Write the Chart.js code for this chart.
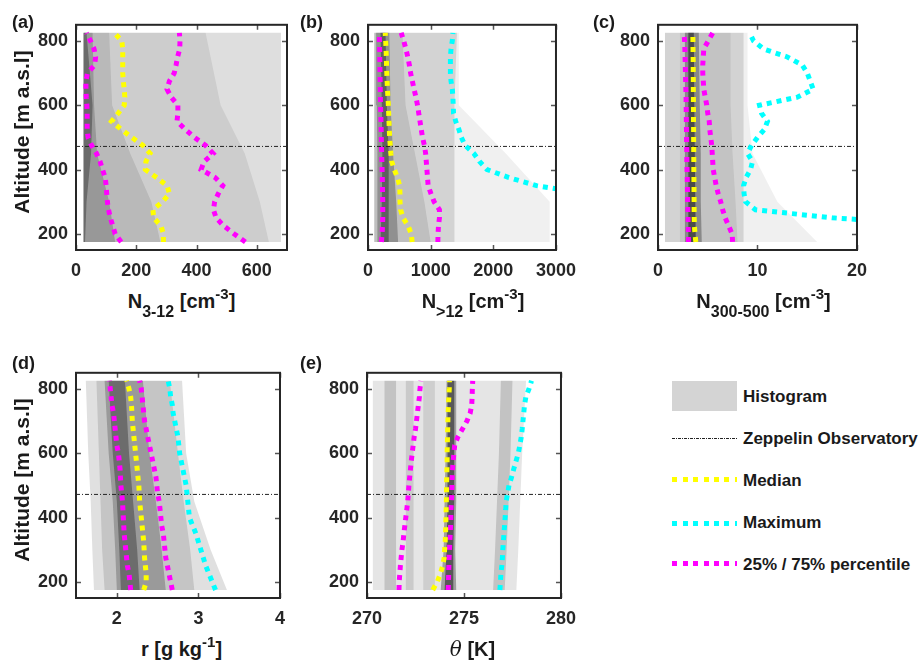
<!DOCTYPE html>
<html>
<head>
<meta charset="utf-8">
<script src="https://cdn.jsdelivr.net/npm/chart.js@4.4.1/dist/chart.umd.min.js"></script>
<style>
body { margin: 0; background: #fff; }
#fig { position: relative; width: 924px; height: 663px; overflow: hidden; font-family: "Liberation Sans", Arial, sans-serif; font-weight: bold; color: #1a1a1a; }
canvas { position: absolute; }
.lab { position: absolute; font-size: 18px; line-height: 20px; white-space: nowrap; }
.xt { position: absolute; font-size: 20px; line-height: 20px; text-align: center; white-space: nowrap; }
.xt sub { font-size: 16px; position: relative; vertical-align: baseline; top: 9px; }
.xt sup { font-size: 15px; position: relative; vertical-align: baseline; top: -9px; }
.yt { position: absolute; width: 240px; font-size: 21px; line-height: 22px; text-align: center; transform: rotate(-90deg); white-space: nowrap; }
.lg { position: absolute; left: 743px; font-size: 17px; line-height: 20px; white-space: nowrap; }
.sw { position: absolute; left: 672px; width: 65px; }
</style>
</head>
<body>
<div id="fig">
  <canvas id="ca" width="279" height="284" style="left:16px;top:6px"></canvas>
  <canvas id="cb" width="278" height="284" style="left:308px;top:6px"></canvas>
  <canvas id="cc" width="279" height="284" style="left:598px;top:6px"></canvas>
  <canvas id="cd" width="279" height="284" style="left:16px;top:354px"></canvas>
  <canvas id="ce" width="279" height="284" style="left:307px;top:354px"></canvas>

  <div class="lab" style="left:12px;top:12px">(a)</div>
  <div class="lab" style="left:300px;top:12px">(b)</div>
  <div class="lab" style="left:593px;top:12px">(c)</div>
  <div class="lab" style="left:12px;top:353px">(d)</div>
  <div class="lab" style="left:300px;top:353px">(e)</div>

  <div class="yt" style="left:-98px;top:121px">Altitude [m a.s.l]</div>
  <div class="yt" style="left:-98px;top:469px">Altitude [m a.s.l]</div>

  <div class="xt" style="left:76px;width:211px;top:291px">N<sub>3-12</sub> [cm<sup>-3</sup>]</div>
  <div class="xt" style="left:368px;width:210px;top:291px">N<sub>&gt;12</sub> [cm<sup>-3</sup>]</div>
  <div class="xt" style="left:658px;width:211px;top:291px">N<sub>300-500</sub> [cm<sup>-3</sup>]</div>
  <div class="xt" style="left:76px;width:211px;top:639px">r [g kg<sup>-1</sup>]</div>
  <div class="xt" style="left:367px;width:211px;top:639px"><i style="font-family:'DejaVu Serif',serif;font-weight:normal">θ</i> [K]</div>

  <div class="sw" style="top:381px;height:30px;background:#d4d4d4"></div>
  <div class="sw" style="top:438px;height:1px;background:repeating-linear-gradient(90deg,#222 0 3px,transparent 3px 4px,#222 4px 5px,transparent 5px 6px)"></div>
  <div class="sw" style="top:477px;height:5px;background:repeating-linear-gradient(90deg,#ffff00 0 5px,transparent 5px 10.5px)"></div>
  <div class="sw" style="top:521px;height:5px;background:repeating-linear-gradient(90deg,#00ffff 0 5px,transparent 5px 10.5px)"></div>
  <div class="sw" style="top:561px;height:5px;background:repeating-linear-gradient(90deg,#ff00ff 0 5px,transparent 5px 10.5px)"></div>
  <div class="lg" style="top:387px">Histogram</div>
  <div class="lg" style="top:429px">Zeppelin Observatory</div>
  <div class="lg" style="top:471px">Median</div>
  <div class="lg" style="top:513px">Maximum</div>
  <div class="lg" style="top:555px">25% / 75% percentile</div>
</div>

<script>
// altitude levels of the profiles
const alt = [175, 200, 225, 250, 275, 300, 325, 350, 375, 400, 425, 450, 475, 500, 525, 550, 575, 600, 625, 650, 675, 700, 725, 750, 775, 800, 825];
const zeppelinAlt = 472;
const yRange = [150, 850];
const yTicks = [200, 400, 600, 800];

// (a) N3-12
const aRange = [0, 700], aTicks = [0, 200, 400, 600];
const aP25 = [150, 130, 122, 114, 108, 104, 102, 100, 97, 88, 80, 68, 52, 40, 37, 37, 37, 36, 34, 33, 33, 38, 62, 65, 60, 48, 35];
const aMed = [290, 290, 282, 258, 255, 287, 310, 302, 268, 230, 232, 246, 222, 185, 150, 118, 140, 160, 162, 160, 157, 155, 155, 155, 155, 152, 127];
const aP75 = [562, 525, 490, 465, 456, 460, 472, 487, 462, 415, 425, 455, 430, 393, 362, 335, 338, 338, 316, 302, 310, 326, 332, 337, 344, 345, 343];

// (b) N>12
const bRange = [0, 3000], bTicks = [0, 1000, 2000, 3000];
const bP25 = [215, 225, 232, 235, 235, 235, 232, 230, 228, 225, 222, 218, 215, 212, 210, 207, 204, 200, 198, 196, 194, 192, 190, 188, 186, 183, 180];
const bMed = [705, 690, 640, 560, 520, 510, 510, 505, 470, 420, 378, 365, 355, 345, 340, 335, 330, 325, 318, 310, 305, 300, 296, 292, 288, 282, 275];
const bP75 = [1115, 1118, 1125, 1140, 1140, 1055, 1005, 960, 950, 940, 930, 920, 900, 870, 850, 830, 810, 790, 765, 735, 708, 680, 660, 635, 605, 570, 530];
const bMax = [null, null, null, null, null, null, 3500, 2690, 2250, 1900, 1780, 1690, 1550, 1490, 1450, 1400, 1365, 1360, 1355, 1345, 1325, 1315, 1315, 1315, 1325, 1345, 1355];

// (c) N300-500
const cRange = [0, 20], cTicks = [0, 10, 20];
const cP25 = [3.06, 3.05, 3.03, 3.02, 3.0, 2.98, 2.97, 2.95, 2.94, 2.92, 2.9, 2.9, 2.88, 2.87, 2.86, 2.85, 2.84, 2.83, 2.82, 2.8, 2.78, 2.76, 2.74, 2.72, 2.7, 2.67, 2.62];
const cMed = [3.8, 3.72, 3.66, 3.64, 3.63, 3.63, 3.62, 3.62, 3.61, 3.6, 3.6, 3.59, 3.59, 3.58, 3.58, 3.57, 3.57, 3.56, 3.56, 3.55, 3.55, 3.54, 3.54, 3.53, 3.52, 3.51, 3.5];
const cP75 = [7.5, 7.45, 7.1, 6.75, 6.5, 6.3, 6.05, 5.85, 5.7, 5.55, 5.5, 5.45, 5.4, 5.3, 5.2, 5.15, 5.0, 4.9, 4.75, 4.6, 4.55, 4.5, 4.5, 4.55, 4.6, 5.05, 5.5];
const cMax = [null, null, 30, 17.5, 9.8, 8.8, 8.65, 8.6, 8.85, 9.3, 9.5, 9.0, 9.4, 10.0, 10.7, 11.0, 10.4, 10.2, 14.0, 15.6, 15.3, 15.0, 14.5, 13.0, 10.6, 9.6, 9.2];

// (d) r
const dRange = [1.5, 4], dTicks = [2, 3, 4];
const dP25 = [2.17, 2.16, 2.15, 2.13, 2.12, 2.11, 2.1, 2.09, 2.085, 2.08, 2.075, 2.07, 2.06, 2.05, 2.045, 2.04, 2.03, 2.02, 2.0, 1.99, 1.98, 1.97, 1.96, 1.94, 1.93, 1.92, 1.91];
const dMed = [2.33, 2.36, 2.36, 2.35, 2.34, 2.335, 2.33, 2.32, 2.31, 2.3, 2.29, 2.28, 2.275, 2.27, 2.26, 2.25, 2.24, 2.23, 2.22, 2.21, 2.2, 2.19, 2.185, 2.18, 2.17, 2.15, 2.12];
const dP75 = [2.68, 2.66, 2.64, 2.62, 2.6, 2.59, 2.58, 2.57, 2.55, 2.54, 2.53, 2.52, 2.5, 2.49, 2.48, 2.46, 2.44, 2.42, 2.4, 2.38, 2.36, 2.34, 2.33, 2.32, 2.31, 2.3, 2.28];
const dMax = [3.21, 3.17, 3.13, 3.09, 3.06, 3.03, 3.0, 2.97, 2.93, 2.89, 2.88, 2.87, 2.86, 2.85, 2.83, 2.81, 2.79, 2.77, 2.76, 2.75, 2.73, 2.71, 2.69, 2.68, 2.66, 2.65, 2.63];

// (e) theta
const eRange = [270, 280], eTicks = [270, 275, 280];
const eP25 = [271.65, 271.66, 271.69, 271.72, 271.76, 271.8, 271.86, 271.9, 271.95, 272.0, 272.05, 272.1, 272.13, 272.16, 272.2, 272.24, 272.28, 272.33, 272.38, 272.43, 272.5, 272.55, 272.6, 272.65, 272.7, 272.73, 272.78];
const eMed = [273.39, 273.62, 273.78, 273.9, 273.98, 274.0, 274.03, 274.05, 274.06, 274.07, 274.08, 274.09, 274.1, 274.1, 274.11, 274.12, 274.13, 274.13, 274.14, 274.15, 274.16, 274.17, 274.18, 274.2, 274.22, 274.24, 274.25];
const eP75 = [274.19, 274.2, 274.21, 274.22, 274.23, 274.25, 274.27, 274.29, 274.31, 274.32, 274.33, 274.35, 274.37, 274.38, 274.39, 274.41, 274.44, 274.48, 274.52, 274.68, 274.92, 275.15, 275.32, 275.4, 275.42, 275.43, 275.45];
const eMax = [276.85, 276.88, 276.9, 276.95, 276.98, 277.0, 277.03, 277.06, 277.09, 277.12, 277.15, 277.17, 277.25, 277.32, 277.45, 277.56, 277.68, 277.8, 277.88, 277.95, 278.0, 278.04, 278.08, 278.12, 278.19, 278.35, 278.48];

// histogram shading: [left edge, right edge, opacity] at histAlt levels
const histAlt = [175, 300, 450, 600, 825];
const aHist = [
  [25, 680, 0.13],
  [25, [640, 610, 560, 480, 430], 0.08],
  [25, [280, 250, 180, 120, 110], 0.10],
  [25, [130, 110, 70, 60, 55], 0.18],
  [25, [30, 35, 50, 55, 35], 0.30]
];
const bHist = [
  [100, [2900, 2900, 2200, 1450, 1450], 0.06],
  [100, [1380, 1380, 1380, 1380, 1420], 0.12],
  [100, [1000, 900, 750, 600, 550], 0.10],
  [[150, 150, 150, 140, 130], [480, 450, 400, 360, 340], 0.25],
  [[200, 220, 230, 220, 200], [330, 330, 330, 300, 280], 0.35]
];
const cHist = [
  [0.7, [16, 12, 9.5, 9, 9], 0.06],
  [0.7, 8.6, 0.12],
  [2.2, [8, 7.8, 7.5, 7.3, 7.3], 0.08],
  [2.7, [4.4, 4.3, 4.3, 4.2, 4.1], 0.30],
  [3.05, [3.8, 3.75, 3.7, 3.65, 3.6], 0.45]
];
const dHist = [
  [[1.72, 1.70, 1.68, 1.65, 1.62], [3.35, 3.15, 2.95, 2.85, 2.80], 0.12],
  [[1.85, 1.82, 1.80, 1.78, 1.75], [2.95, 2.90, 2.82, 2.75, 2.65], 0.12],
  [[2.0, 1.98, 1.95, 1.9, 1.85], [2.6, 2.55, 2.48, 2.4, 2.32], 0.22],
  [[2.05, 2.03, 2.0, 1.95, 1.9], [2.28, 2.25, 2.2, 2.15, 2.1], 0.30]
];
const eHist = [
  [270.3, [277.7, 277.8, 277.9, 278.0, 278.2], 0.10],
  [270.9, 271.5, 0.15],
  [272.0, 272.4, 0.12],
  [272.9, 273.5, 0.10],
  [[276.5, 276.6, 276.7, 276.8, 276.9], [277.1, 277.2, 277.3, 277.4, 277.5], 0.15],
  [[273.8, 273.95, 274.0, 274.05, 274.1], [274.6, 274.55, 274.6, 274.6, 274.6], 0.30],
  [[274.0, 274.1, 274.15, 274.15, 274.15], [274.45, 274.45, 274.5, 274.5, 274.5], 0.45]
];

const YELLOW = '#ffff00', MAGENTA = '#ff00ff', CYAN = '#00ffff', INK = '#262626';
const tickFont = { family: "'Liberation Sans', Arial, sans-serif", size: 18, weight: 'bold' };

function profile(vals) {
    return alt.map((y, i) => ({ x: vals[i], y: y })).filter(p => p.x !== null);
}

function bandShape(lo, hi) {
    const L = Array.isArray(lo) ? lo : histAlt.map(() => lo);
    const H = Array.isArray(hi) ? hi : histAlt.map(() => hi);
    const left = histAlt.map((y, i) => ({ x: L[i], y: y }));
    const right = histAlt.map((y, i) => ({ x: H[i], y: y })).reverse();
    return left.concat(right);
}

// box and inward tick marks like the original axes
const framePlugin = {
    id: 'frame',
    afterDraw(chart) {
        const { ctx, chartArea: a, scales: { x, y } } = chart;
        ctx.save();
        ctx.strokeStyle = '#555';
        ctx.lineWidth = 1.5;
        ctx.beginPath();
        y.ticks.forEach(t => {
            const py = Math.round(y.getPixelForValue(t.value)) + 0.5;
            ctx.moveTo(a.left, py); ctx.lineTo(a.left + 5, py);
            ctx.moveTo(a.right, py); ctx.lineTo(a.right - 5, py);
        });
        x.ticks.forEach(t => {
            const px = Math.round(x.getPixelForValue(t.value)) + 0.5;
            ctx.moveTo(px, a.bottom); ctx.lineTo(px, a.bottom - 5);
            ctx.moveTo(px, a.top); ctx.lineTo(px, a.top + 5);
        });
        ctx.stroke();
        ctx.strokeStyle = INK;
        ctx.lineWidth = 2;
        ctx.strokeRect(a.left, a.top, a.right - a.left, a.bottom - a.top);
        ctx.restore();
    }
};

function makePanel(id, xRange, xTicks, lines, hist) {
    const datasets = [];
    lines.forEach(l => {
        datasets.push({
            data: profile(l.vals),
            borderColor: l.color,
            borderWidth: 5,
            borderDash: [5, 5],
            borderCapStyle: 'butt',
            pointRadius: 0,
            fill: false,
            tension: 0,
            clip: 0,
            order: 0
        });
    });
    datasets.push({
        data: [{ x: xRange[0], y: zeppelinAlt }, { x: xRange[1], y: zeppelinAlt }],
        borderColor: '#222',
        borderWidth: 1,
        borderDash: [4, 2, 1, 2],
        pointRadius: 0,
        fill: false,
        order: 1
    });
    hist.forEach(h => {
        datasets.push({
            data: bandShape(h[0], h[1]),
            borderWidth: 0,
            borderColor: 'rgba(0,0,0,0)',
            backgroundColor: 'rgba(0,0,0,' + h[2] + ')',
            pointRadius: 0,
            fill: 'shape',
            tension: 0,
            order: 2
        });
    });

    new Chart(document.getElementById(id), {
        type: 'line',
        data: { datasets: datasets },
        options: {
            responsive: false,
            animation: false,
            events: [],
            layout: { padding: { top: 8, right: 8, left: 0, bottom: 0 } },
            plugins: { legend: { display: false }, tooltip: { enabled: false } },
            scales: {
                x: {
                    type: 'linear',
                    min: xRange[0],
                    max: xRange[1],
                    afterBuildTicks: s => { s.ticks = xTicks.map(v => ({ value: v })); },
                    afterFit: s => { s.height = 40; },
                    grid: { display: false, drawTicks: false },
                    border: { display: false },
                    ticks: { font: tickFont, color: INK, padding: 10, maxRotation: 0, autoSkip: false, callback: v => String(v) }
                },
                y: {
                    type: 'linear',
                    min: yRange[0],
                    max: yRange[1],
                    afterBuildTicks: s => { s.ticks = yTicks.map(v => ({ value: v })); },
                    afterFit: s => { s.width = 60; },
                    grid: { display: false, drawTicks: false },
                    border: { display: false },
                    ticks: { font: tickFont, color: INK, padding: 8, autoSkip: false, callback: v => String(v) }
                }
            }
        },
        plugins: [framePlugin]
    });
}

makePanel('ca', aRange, aTicks, [
    { vals: aMed, color: YELLOW }, { vals: aP25, color: MAGENTA }, { vals: aP75, color: MAGENTA }
], aHist);
makePanel('cb', bRange, bTicks, [
    { vals: bMed, color: YELLOW }, { vals: bP25, color: MAGENTA }, { vals: bP75, color: MAGENTA }, { vals: bMax, color: CYAN }
], bHist);
makePanel('cc', cRange, cTicks, [
    { vals: cMed, color: YELLOW }, { vals: cP25, color: MAGENTA }, { vals: cP75, color: MAGENTA }, { vals: cMax, color: CYAN }
], cHist);
makePanel('cd', dRange, dTicks, [
    { vals: dMed, color: YELLOW }, { vals: dP25, color: MAGENTA }, { vals: dP75, color: MAGENTA }, { vals: dMax, color: CYAN }
], dHist);
makePanel('ce', eRange, eTicks, [
    { vals: eMed, color: YELLOW }, { vals: eP25, color: MAGENTA }, { vals: eP75, color: MAGENTA }, { vals: eMax, color: CYAN }
], eHist);
</script>
</body>
</html>
